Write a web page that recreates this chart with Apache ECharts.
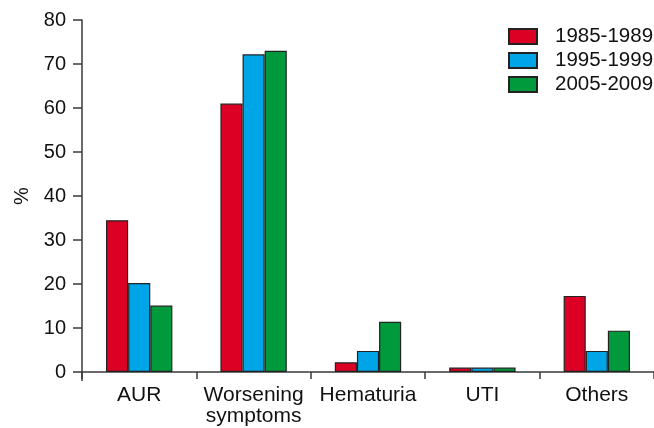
<!DOCTYPE html>
<html><head><meta charset="utf-8">
<script src="https://cdn.jsdelivr.net/npm/echarts@6/dist/echarts.min.js"></script>
<style>html,body{margin:0;padding:0;background:#fff;overflow:hidden}#c{width:654px;height:428px}</style>
</head><body><div id="c"></div>
<script>
const categories = ['AUR', 'Worsening\nsymptoms', 'Hematuria', 'UTI', 'Others'];
const seriesNames = ['1985-1989', '1995-1999', '2005-2009'];
const values1985 = [34.5, 61.0, 2.2, 1.0, 17.3];
const values1995 = [20.2, 72.2, 4.8, 1.0, 4.8];
const values2005 = [15.1, 73.0, 11.4, 1.0, 9.4];
const yTicks = [0, 80, 10];
const colors = ['#DC0025', '#00A5E8', '#009A3C'];

const chart = echarts.init(document.getElementById('c'), null, {renderer: 'canvas'});
const font = 'Liberation Sans, Arial, sans-serif';
const allValues = [values1985, values1995, values2005];
const axisColor = '#3a3a3a';
const option = {
  animation: false,
  backgroundColor: '#fff',
  grid: {left: 82, width: 580, top: 20, height: 352, containLabel: false},
  legend: {
    left: 508, top: 26, padding: 0, orient: 'vertical', itemWidth: 28, itemHeight: 15, itemGap: 3,
    icon: 'rect',
    textStyle: {fontFamily: font, fontSize: 20.5, lineHeight: 21, color: '#111', padding: [0, 0, 0, 13]},
    data: seriesNames
  },
  xAxis: {
    type: 'category', data: categories,
    axisLine: {lineStyle: {color: axisColor, width: 1.5}},
    axisTick: {show: true, alignWithLabel: false, length: 7, lineStyle: {color: axisColor, width: 1.5}},
    axisLabel: {fontFamily: font, fontSize: 21, color: '#111', margin: 13, lineHeight: 21, interval: 0}
  },
  yAxis: {
    type: 'value', min: yTicks[0], max: yTicks[1], interval: yTicks[2],
    name: '%', nameLocation: 'middle', nameGap: 49, nameRotate: 90,
    nameTextStyle: {fontFamily: font, fontSize: 20, color: '#111'},
    axisLine: {show: true, lineStyle: {color: axisColor, width: 1.5}},
    axisTick: {show: true, length: 9, lineStyle: {color: axisColor, width: 1.5}},
    axisLabel: {fontFamily: font, fontSize: 20, color: '#111', margin: 16},
    splitLine: {show: false}
  },
  series: seriesNames.map((n, i) => ({
    name: n, type: 'bar', data: allValues[i], barGap: '0%', barCategoryGap: '42%',
    itemStyle: {color: colors[i], borderColor: '#222', borderWidth: 1.2}
  }))
};
chart.setOption(option);
const p0 = chart.convertToPixel({gridIndex: 0}, [0, 0]);
chart.setOption({
  graphic: [
    {type: 'line', shape: {x1: 82, y1: p0[1], x2: 82, y2: p0[1] + 9}, style: {stroke: axisColor, lineWidth: 1.5}}
  ]
});
</script></body></html>
